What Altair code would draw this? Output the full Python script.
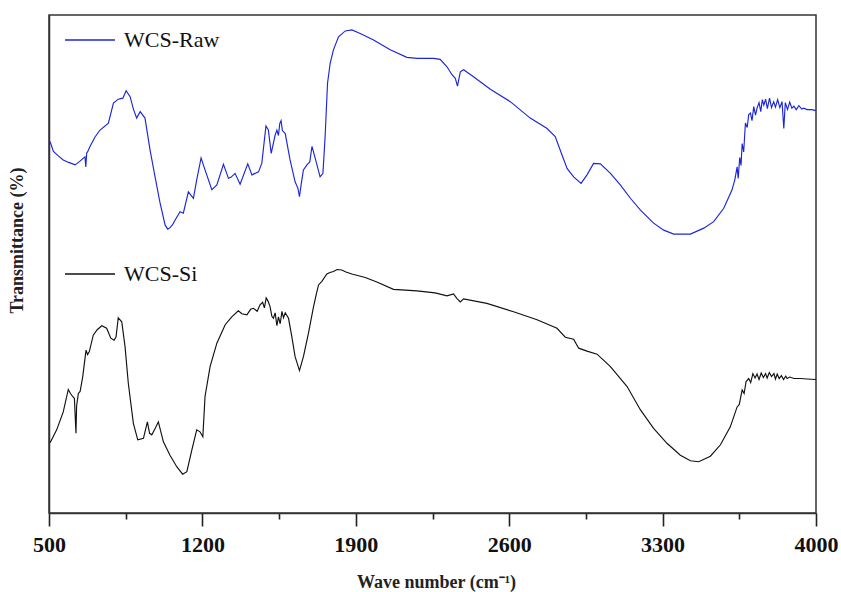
import altair as alt
import pandas as pd

# FTIR transmittance spectra (wavenumber in cm^-1, transmittance in arbitrary %)
raw_points = [
    (505, 74.6), (520, 72.6), (540, 71.8), (565, 70.9), (590, 70.4), (619, 69.9),
    (640, 70.6), (664, 71.5), (668, 69.5), (672, 72.3), (676, 72.5), (687, 73.6),
    (710, 75.5), (733, 76.9), (771, 78.3), (794, 82.3), (816, 83.1), (837, 83.3),
    (852, 84.8), (870, 83.6), (886, 81.0), (900, 79.3), (916, 80.6), (938, 79.3),
    (961, 72.9), (984, 67.5), (1007, 62.2), (1030, 57.8), (1042, 57.0), (1052, 57.3),
    (1064, 57.9), (1075, 58.8), (1098, 60.5), (1113, 60.2), (1136, 64.5), (1159, 63.2),
    (1174, 66.9), (1194, 71.3), (1212, 68.9), (1243, 64.9), (1266, 65.9), (1296, 70.0),
    (1319, 67.2), (1330, 67.4), (1349, 68.2), (1372, 66.0), (1407, 70.1), (1426, 67.9),
    (1456, 68.5), (1471, 70.2), (1490, 77.7), (1501, 76.9), (1514, 72.2), (1532, 75.9),
    (1540, 76.9), (1547, 75.8), (1553, 78.2), (1559, 78.8), (1565, 76.8), (1578, 76.2),
    (1600, 70.9), (1623, 66.5), (1636, 65.2), (1643, 63.5), (1650, 65.8), (1661, 68.9),
    (1677, 69.9), (1690, 70.5), (1700, 73.6), (1715, 71.2), (1737, 67.5), (1750, 68.2),
    (1760, 75.6), (1771, 86.3), (1783, 90.3), (1798, 93.0), (1821, 95.6), (1852, 96.8),
    (1882, 97.0), (1920, 96.3), (1981, 95.0), (2057, 93.0), (2133, 91.5), (2179, 91.3),
    (2255, 91.3), (2285, 91.1), (2316, 89.6), (2339, 88.0), (2354, 87.3), (2364, 85.7),
    (2377, 88.6), (2392, 89.0), (2437, 87.6), (2514, 85.1), (2605, 82.6), (2696, 79.3),
    (2773, 77.2), (2810, 75.6), (2841, 71.9), (2864, 69.2), (2894, 67.5), (2928, 66.2),
    (2955, 67.9), (2985, 70.2), (3016, 70.1), (3062, 68.2), (3107, 65.9), (3153, 63.2),
    (3199, 60.8), (3259, 58.2), (3305, 56.8), (3351, 56.0), (3427, 56.0), (3488, 57.2),
    (3533, 58.5), (3579, 61.2), (3617, 64.9), (3630, 67.0), (3640, 69.5), (3645, 67.2),
    (3652, 71.4), (3658, 69.8), (3663, 74.2), (3670, 72.5), (3678, 78.3), (3686, 77.4),
    (3693, 80.0), (3701, 80.3), (3708, 78.8), (3716, 81.6), (3724, 79.9), (3731, 81.3),
    (3740, 82.4), (3748, 80.6), (3755, 83.0), (3762, 81.9), (3770, 83.1), (3778, 81.2),
    (3788, 83.3), (3797, 81.4), (3807, 82.6), (3815, 81.5), (3825, 83.0), (3835, 81.4),
    (3845, 82.6), (3853, 77.2), (3860, 82.4), (3870, 81.0), (3880, 82.5), (3890, 81.3),
    (3899, 81.7), (3910, 81.0), (3922, 81.8), (3935, 81.1), (3944, 81.3), (3960, 81.0),
    (3980, 81.0), (4000, 80.8),
]

si_points = [
    (505, 14.1), (535, 16.7), (565, 20.3), (588, 24.8), (598, 24.0), (608, 23.4),
    (616, 23.0), (620, 19.0), (623, 16.0), (626, 21.5), (634, 24.0), (642, 24.4),
    (654, 27.4), (669, 32.7), (676, 31.8), (684, 32.4), (702, 35.7), (720, 36.8),
    (741, 37.6), (763, 37.1), (782, 35.1), (797, 34.7), (806, 35.4), (816, 39.2),
    (832, 38.4), (847, 33.4), (862, 26.0), (885, 18.0), (905, 14.7), (931, 15.0),
    (949, 18.3), (959, 16.0), (969, 15.7), (985, 17.0), (999, 18.3), (1022, 14.3),
    (1052, 11.6), (1083, 9.3), (1110, 7.8), (1129, 8.3), (1152, 12.7), (1174, 16.7),
    (1189, 16.3), (1202, 15.3), (1212, 23.4), (1235, 29.4), (1266, 34.1), (1304, 37.8),
    (1334, 39.4), (1364, 40.6), (1380, 40.0), (1403, 39.8), (1420, 40.9), (1433, 41.1),
    (1450, 40.5), (1463, 41.8), (1475, 42.3), (1483, 41.2), (1491, 43.2), (1500, 42.5),
    (1509, 41.4), (1517, 39.5), (1524, 39.1), (1532, 40.2), (1540, 37.6), (1547, 39.4),
    (1555, 38.0), (1563, 40.5), (1570, 39.2), (1578, 40.2), (1593, 39.1), (1608, 35.4),
    (1623, 31.4), (1643, 28.6), (1661, 31.4), (1684, 36.1), (1707, 41.4), (1720, 44.0),
    (1730, 45.8), (1745, 46.5), (1768, 48.0), (1782, 48.3), (1798, 48.5), (1815, 48.9),
    (1836, 48.8), (1855, 48.4), (1882, 48.0), (1943, 47.3), (1996, 46.4), (2072, 44.9),
    (2179, 44.6), (2262, 44.2), (2316, 43.6), (2346, 44.0), (2361, 43.1), (2377, 42.4),
    (2392, 43.0), (2498, 42.1), (2620, 40.4), (2727, 38.8), (2818, 37.1), (2856, 35.3),
    (2894, 34.9), (2917, 33.1), (2955, 32.5), (3001, 31.9), (3062, 29.4), (3138, 25.4),
    (3199, 20.7), (3259, 17.0), (3320, 14.0), (3381, 11.6), (3427, 10.5), (3465, 10.3),
    (3518, 11.4), (3564, 13.7), (3609, 17.3), (3640, 21.3), (3650, 21.8), (3663, 24.7),
    (3672, 24.0), (3681, 26.4), (3693, 27.0), (3702, 26.2), (3712, 28.0), (3722, 27.1),
    (3731, 27.9), (3740, 26.8), (3750, 28.1), (3760, 27.2), (3770, 28.0), (3777, 27.1),
    (3787, 28.2), (3797, 27.4), (3808, 28.0), (3815, 26.9), (3823, 27.9), (3832, 27.0),
    (3842, 27.6), (3852, 26.8), (3862, 27.5), (3868, 27.0), (3880, 27.3), (3900, 27.0),
    (3929, 27.0), (3960, 26.9), (4000, 26.8),
]

series_names = ["WCS-Raw", "WCS-Si"]
series_colors = ["#1c26d8", "#111111"]
major_ticks = [500, 1200, 1900, 2600, 3300, 4000]
minor_ticks = [850, 1550, 2250, 2950, 3650]

frames = []
for name, pts in zip(series_names, [raw_points, si_points]):
    df = pd.DataFrame(pts, columns=["wavenumber", "transmittance"])
    df["sample"] = name
    frames.append(df)
data = pd.concat(frames, ignore_index=True)

is_major = "datum.value % 700 == 500"

x_axis = alt.Axis(
    values=sorted(major_ticks + minor_ticks),
    format="d",
    labelExpr=f"{is_major} ? datum.label : ''",
    labelFlush=False,
    labelFont="Liberation Serif",
    labelFontSize=22,
    labelFontWeight="bold",
    labelColor="#111111",
    labelPadding=8,
    tickSize={"condition": {"test": is_major, "value": 13}, "value": 6},
    tickColor="#222222",
    tickWidth=1.6,
    domainColor="#333333",
    domainWidth=1.5,
    grid=False,
    titleFont="Liberation Serif",
    titleFontSize=18,
    titleFontWeight="bold",
    titleColor="#222222",
    titleX=387,
    titleY=74,
    titleBaseline="alphabetic",
)

y_axis = alt.Axis(
    labels=False,
    ticks=False,
    grid=False,
    domainColor="#333333",
    domainWidth=1.5,
    titleFont="Liberation Serif",
    titleFontSize=18,
    titleFontWeight="bold",
    titleColor="#222222",
    titleX=-32,
    titleY=225,
    titleBaseline="middle",
)

legend = alt.Legend(
    title=None,
    orient="none",
    legendX=15,
    legendY=-1,
    direction="vertical",
    symbolType="stroke",
    symbolSize=2500,
    symbolStrokeWidth=1.5,
    labelFont="Liberation Serif",
    labelFontSize=22,
    labelColor="#111111",
    labelOffset=8,
    rowPadding=197,
    padding=0,
)

chart = (
    alt.Chart(data)
    .mark_line(strokeWidth=1.15)
    .encode(
        x=alt.X(
            "wavenumber:Q",
            title="Wave number (cm⁻¹)",
            scale=alt.Scale(domain=[500, 4000], nice=False, zero=False),
            axis=x_axis,
        ),
        y=alt.Y(
            "transmittance:Q",
            title="Transmittance (%)",
            scale=alt.Scale(domain=[0, 100], nice=False),
            axis=y_axis,
        ),
        color=alt.Color(
            "sample:N",
            scale=alt.Scale(domain=series_names, range=series_colors),
            legend=legend,
        ),
        detail="sample:N",
    )
    .properties(
        width=767,
        height=498,
        autosize=alt.AutoSizeParams(type="none"),
        padding={"left": 49, "top": 15, "right": 25, "bottom": 79},
        background="white",
    )
    .configure_view(stroke="#333333", strokeWidth=1.5)
)

chart.save("out.html", embed_options={"renderer": "svg", "actions": False})
